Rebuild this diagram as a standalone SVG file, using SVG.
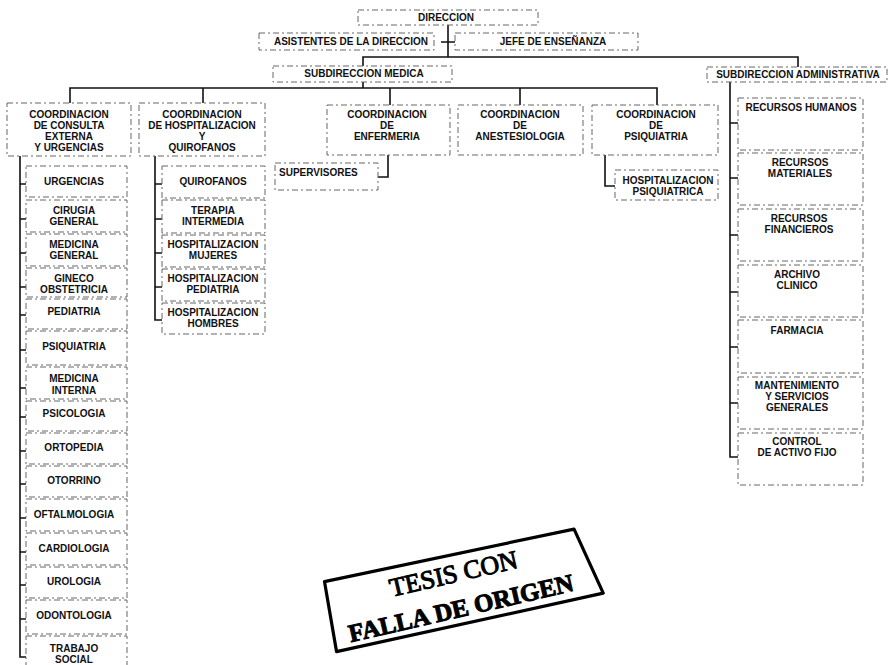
<svg xmlns="http://www.w3.org/2000/svg" width="890" height="665" viewBox="0 0 890 665">
<style>
.b{fill:none;stroke:#666;stroke-width:1;stroke-dasharray:6 3 2 3}
.t{font-family:"Liberation Sans",Arial,sans-serif;font-weight:bold;font-size:10px;fill:#111;text-anchor:middle}
.tl{text-anchor:start}
.c{fill:none;stroke:#111;stroke-width:1.6}
.st{font-family:"Liberation Serif","Times New Roman",serif;fill:#000}
</style>
<rect width="890" height="665" fill="#fff"/>
<g id="connectors">
<path class="c" d="M448,25 V57 M441,42 H455 M363,66 V57 H798 V67"/>
<path class="c" d="M363,82 V88 M70,103 V88 H657 V105 M203,88 V103 M390,88 V105 M520,88 V105"/>
<path class="c" d="M388,155 V177 H378 M605,155 V186 H615"/>
<path class="c" d="M20,156 V657 H26 M20,184 H26 M20,219 H26 M20,253 H26 M20,287 H26 M20,315 H26 M20,350 H26 M20,388 H26 M20,417 H26 M20,451 H26 M20,484 H26 M20,518 H26 M20,552 H26 M20,585 H26 M20,619 H26"/>
<path class="c" d="M155,156 V320 H162 M155,184 H162 M155,219 H162 M155,253 H162 M155,287 H162"/>
<path class="c" d="M730,82 V457 H738 M730,123 H738 M730,178 H738 M730,235 H738 M730,292 H738 M730,347 H738 M730,403 H738"/>
</g>
<g id="n-direccion"><rect class="b" x="358" y="10" width="180" height="15"/><text class="t" x="446" y="21">DIRECCION</text></g>
<g id="n-asistentes"><rect class="b" x="259" y="33" width="175" height="17"/><text class="t" x="351" y="45">ASISTENTES DE LA DIRECCION</text></g>
<g id="n-jefe"><rect class="b" x="455" y="33" width="183" height="17"/><text class="t" x="553" y="45">JEFE DE ENSEÑANZA</text></g>
<g id="n-submed"><rect class="b" x="273" y="66" width="179" height="16"/><text class="t" x="364" y="77">SUBDIRECCION MEDICA</text></g>
<g id="n-subadm"><rect class="b" x="707" y="67" width="180" height="15"/><text class="t" x="798" y="78">SUBDIRECCION ADMINISTRATIVA</text></g>

<g id="n-consulta"><rect class="b" x="7" y="103" width="124" height="53"/><text class="t" x="69" y="118">COORDINACION</text><text class="t" x="69" y="129">DE CONSULTA</text><text class="t" x="69" y="140">EXTERNA</text><text class="t" x="69" y="151">Y URGENCIAS</text></g>
<g id="n-hosp"><rect class="b" x="139" y="103" width="126" height="53"/><text class="t" x="202" y="118">COORDINACION</text><text class="t" x="202" y="129">DE HOSPITALIZACION</text><text class="t" x="202" y="140">Y</text><text class="t" x="202" y="151">QUIROFANOS</text></g>
<g id="n-enf"><rect class="b" x="327" y="105" width="123" height="50"/><text class="t" x="387" y="118">COORDINACION</text><text class="t" x="387" y="129">DE</text><text class="t" x="387" y="140">ENFERMERIA</text></g>
<g id="n-anest"><rect class="b" x="458" y="105" width="125" height="50"/><text class="t" x="520" y="118">COORDINACION</text><text class="t" x="520" y="129">DE</text><text class="t" x="520" y="140">ANESTESIOLOGIA</text></g>
<g id="n-psiq"><rect class="b" x="592" y="105" width="126" height="50"/><text class="t" x="656" y="118">COORDINACION</text><text class="t" x="656" y="129">DE</text><text class="t" x="656" y="140">PSIQUIATRIA</text></g>

<g id="n-supervisores"><rect class="b" x="275" y="163" width="103" height="27"/><text class="t tl" x="279" y="176">SUPERVISORES</text></g>
<g id="n-hosppsiq"><rect class="b" x="615" y="170" width="103" height="30"/><text class="t" x="668" y="184">HOSPITALIZACION</text><text class="t" x="668" y="195">PSIQUIATRICA</text></g>

<g id="n-urgencias"><rect class="b" x="26" y="166" width="101" height="31"/><text class="t" x="74" y="185">URGENCIAS</text></g>
<g id="n-cirugia"><rect class="b" x="26" y="200" width="101" height="32"/><text class="t" x="74" y="214">CIRUGIA</text><text class="t" x="74" y="225">GENERAL</text></g>
<g id="n-medgen"><rect class="b" x="26" y="234" width="101" height="32"/><text class="t" x="74" y="248">MEDICINA</text><text class="t" x="74" y="259">GENERAL</text></g>
<g id="n-gineco"><rect class="b" x="26" y="268" width="101" height="29"/><text class="t" x="74" y="282">GINECO</text><text class="t" x="74" y="293">OBSTETRICIA</text></g>
<g id="n-pediatria"><rect class="b" x="26" y="299" width="101" height="30"/><text class="t" x="74" y="315">PEDIATRIA</text></g>
<g id="n-psiquiatria"><rect class="b" x="26" y="331" width="101" height="34"/><text class="t" x="74" y="350">PSIQUIATRIA</text></g>
<g id="n-medint"><rect class="b" x="26" y="367" width="101" height="32"/><text class="t" x="74" y="382">MEDICINA</text><text class="t" x="74" y="394">INTERNA</text></g>
<g id="n-psicologia"><rect class="b" x="26" y="401" width="101" height="30"/><text class="t" x="74" y="417">PSICOLOGIA</text></g>
<g id="n-ortopedia"><rect class="b" x="26" y="433" width="101" height="31"/><text class="t" x="74" y="451">ORTOPEDIA</text></g>
<g id="n-otorrino"><rect class="b" x="26" y="466" width="101" height="31"/><text class="t" x="74" y="484">OTORRINO</text></g>
<g id="n-oftalmo"><rect class="b" x="26" y="499" width="101" height="32"/><text class="t" x="74" y="518">OFTALMOLOGIA</text></g>
<g id="n-cardio"><rect class="b" x="26" y="533" width="101" height="32"/><text class="t" x="74" y="552">CARDIOLOGIA</text></g>
<g id="n-urologia"><rect class="b" x="26" y="567" width="101" height="31"/><text class="t" x="74" y="585">UROLOGIA</text></g>
<g id="n-odonto"><rect class="b" x="26" y="600" width="101" height="34"/><text class="t" x="74" y="619">ODONTOLOGIA</text></g>
<g id="n-trabajo"><rect class="b" x="26" y="636" width="101" height="34"/><text class="t" x="74" y="652">TRABAJO</text><text class="t" x="74" y="663">SOCIAL</text></g>

<g id="n-quirofanos"><rect class="b" x="162" y="166" width="103" height="32"/><text class="t" x="213" y="185">QUIROFANOS</text></g>
<g id="n-terapia"><rect class="b" x="162" y="200" width="103" height="33"/><text class="t" x="213" y="214">TERAPIA</text><text class="t" x="213" y="225">INTERMEDIA</text></g>
<g id="n-hmujeres"><rect class="b" x="162" y="235" width="103" height="32"/><text class="t" x="213" y="248">HOSPITALIZACION</text><text class="t" x="213" y="259">MUJERES</text></g>
<g id="n-hpediatria"><rect class="b" x="162" y="269" width="103" height="32"/><text class="t" x="213" y="282">HOSPITALIZACION</text><text class="t" x="213" y="293">PEDIATRIA</text></g>
<g id="n-hhombres"><rect class="b" x="162" y="303" width="103" height="31"/><text class="t" x="213" y="316">HOSPITALIZACION</text><text class="t" x="213" y="327">HOMBRES</text></g>

<g id="n-rh"><rect class="b" x="738" y="98" width="125" height="52"/><text class="t" x="801" y="111">RECURSOS HUMANOS</text></g>
<g id="n-rm"><rect class="b" x="738" y="153" width="125" height="52"/><text class="t" x="800" y="166">RECURSOS</text><text class="t" x="800" y="177">MATERIALES</text></g>
<g id="n-rf"><rect class="b" x="738" y="209" width="125" height="52"/><text class="t" x="799" y="222">RECURSOS</text><text class="t" x="799" y="233">FINANCIEROS</text></g>
<g id="n-ac"><rect class="b" x="738" y="265" width="125" height="52"/><text class="t" x="797" y="278">ARCHIVO</text><text class="t" x="797" y="289">CLINICO</text></g>
<g id="n-fa"><rect class="b" x="738" y="320" width="125" height="53"/><text class="t" x="797" y="334">FARMACIA</text></g>
<g id="n-ma"><rect class="b" x="738" y="377" width="125" height="52"/><text class="t" x="797" y="389">MANTENIMIENTO</text><text class="t" x="797" y="400">Y SERVICIOS</text><text class="t" x="797" y="411">GENERALES</text></g>
<g id="n-co"><rect class="b" x="738" y="433" width="125" height="52"/><text class="t" x="797" y="445">CONTROL</text><text class="t" x="797" y="456">DE ACTIVO FIJO</text></g>

<g id="stamp" transform="translate(378,600) rotate(-13)">
<polygon points="-48,-30 207,-25 221,44 -52,41" fill="none" stroke="#000" stroke-width="3.2" stroke-linejoin="round"/>
<text class="st" x="14" y="0" font-size="26" stroke="#000" stroke-width="1">TESIS CON</text>
<text class="st" x="194" y="35" font-size="25" font-weight="bold" text-anchor="end" stroke="#000" stroke-width="1">FALLA DE ORIGEN</text>
</g>
</svg>
